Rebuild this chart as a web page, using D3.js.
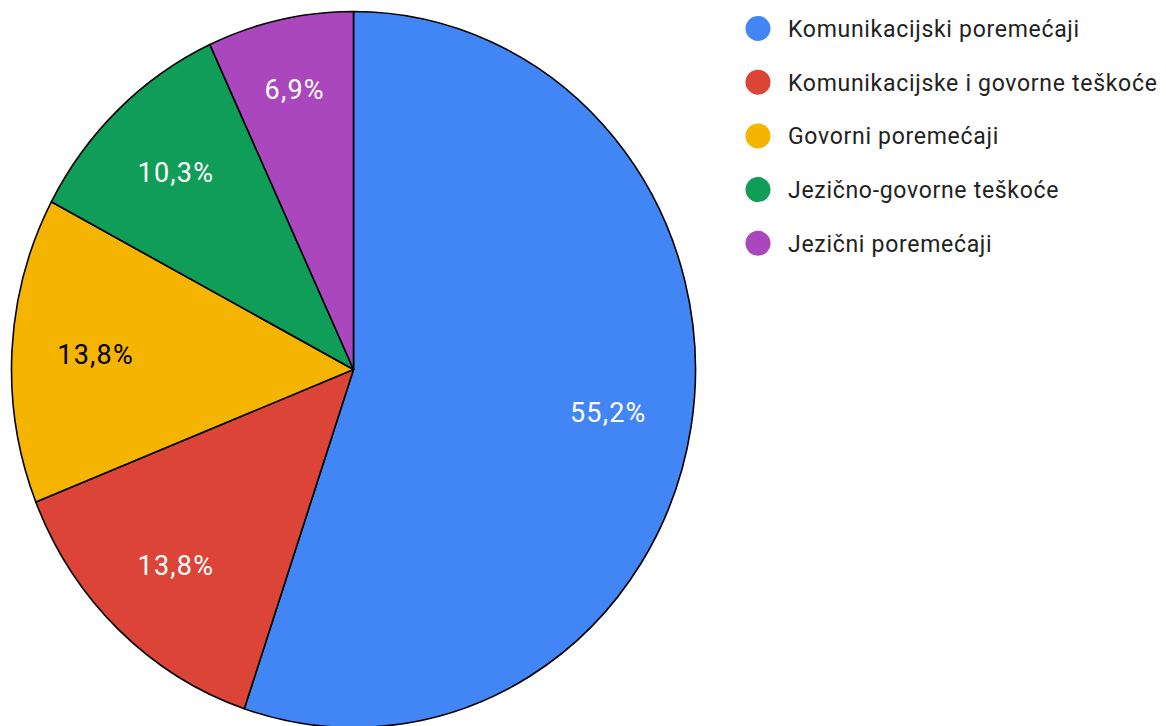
<!DOCTYPE html>
<html>
<head>
<meta charset="utf-8">
<script src="https://cdn.jsdelivr.net/npm/d3@7"></script>
<style>
  body { margin: 0; background: #fff; }
  text { font-family: Roboto, "Noto Sans", sans-serif; }
</style>
</head>
<body>
<div id="container"></div>
<script>
/* DATA */
const categories = [
  "Komunikacijski poremećaji",
  "Komunikacijske i govorne teškoće",
  "Govorni poremećaji",
  "Jezično-govorne teškoće",
  "Jezični poremećaji"
];
const counts = [16, 4, 4, 3, 2];
const colors = ["#4285F4", "#DB4437", "#F4B400", "#0F9D58", "#AB47BC"];
const labelColors = ["#fff", "#fff", "#000", "#fff", "#fff"];

/* CONSTANTS */
const width = 1166, height = 726;
const cx = 353.5, cy = 369.5;
const rx = 342, ry = 358; // picture is stretched a little vertically

const svg = d3.select("#container")
  .append("svg")
  .attr("width", width)
  .attr("height", height);

const total = d3.sum(counts);
const pie = d3.pie().sort(null).value(d => d)(counts);
const arc = d3.arc().innerRadius(0).outerRadius(rx);

// narrow slices get their label pushed a bit further out
const labelR = d => (d.endAngle - d.startAngle) < 0.5 ? 0.8 : 0.755;

// slices
const g = svg.append("g")
  .attr("transform", `translate(${cx},${cy}) scale(1,${ry / rx})`);

g.selectAll("path")
  .data(pie)
  .join("path")
  .attr("d", arc)
  .attr("fill", (d, i) => colors[i])
  .attr("stroke", "#000")
  .attr("stroke-width", 1.6)
  .attr("stroke-linejoin", "round")
  .attr("vector-effect", "non-scaling-stroke");

// slice labels
const fmt = v => (Math.round(v * 1000) / 10).toFixed(1).replace(".", ",") + "%";
svg.selectAll("text.lbl")
  .data(pie)
  .join("text")
  .attr("class", "lbl")
  .attr("x", d => cx + labelR(d) * rx * Math.sin((d.startAngle + d.endAngle) / 2))
  .attr("y", d => cy - labelR(d) * ry * Math.cos((d.startAngle + d.endAngle) / 2))
  .attr("text-anchor", "middle")
  .attr("dominant-baseline", "central")
  .attr("font-size", 27)
  .attr("letter-spacing", 1.2)
  .attr("fill", (d, i) => labelColors[i])
  .text(d => fmt(d.value / total));

// legend
const legend = svg.append("g")
  .selectAll("g")
  .data(categories)
  .join("g")
  .attr("transform", (d, i) => `translate(758,${28.5 + i * 53.7})`);

legend.append("circle")
  .attr("r", 12.5)
  .attr("fill", (d, i) => colors[i]);

legend.append("text")
  .attr("x", 30)
  .attr("y", 1)
  .attr("dominant-baseline", "central")
  .attr("font-size", 23)
  .attr("letter-spacing", 0.7)
  .attr("fill", "#222")
  .text(d => d);
</script>
</body>
</html>
